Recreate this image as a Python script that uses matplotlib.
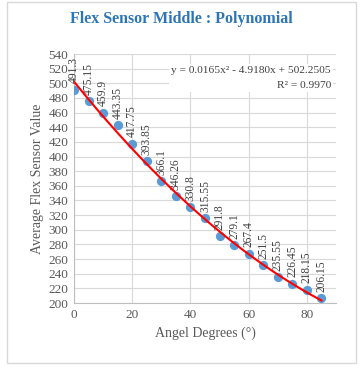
import numpy as np
import matplotlib
matplotlib.use('Agg')
import matplotlib.pyplot as plt
from matplotlib.patches import Rectangle

# data
angle = [0, 5, 10, 15, 20, 25, 30, 35, 40, 45, 50, 55, 60, 65, 70, 75, 80, 85]
value = [491.3, 475.15, 459.9, 443.35, 417.75, 393.85, 366.1, 346.26, 330.8,
         315.55, 291.8, 279.1, 267.4, 251.5, 235.55, 226.45, 218.15, 206.15]
labels = ['491.3', '475.15', '459.9', '443.35', '417.75', '393.85', '366.1',
          '346.26', '330.8', '315.55', '291.8', '279.1', '267.4', '251.5',
          '235.55', '226.45', '218.15', '206.15']
coef = [0.0165, -4.9180, 502.2505]   # trendline y = a x^2 + b x + c

plt.rcParams['font.family'] = ['Liberation Serif', 'DejaVu Serif']
grey = '#595959'

fig = plt.figure(figsize=(3.63, 3.71), dpi=100)
fig.patches.append(Rectangle((7/363, 1 - 363/371), 349/363, 361/371,
                             transform=fig.transFigure, fill=False,
                             edgecolor='#d9d9d9', linewidth=1))
ax = fig.add_axes([74/363, 1 - 303/371, 262/363, 249/371])

ax.scatter(angle, value, s=32, color='#5b9bd5', zorder=3)
xt = np.linspace(0, 85, 200)
ax.plot(xt, np.polyval(coef, xt), color='#ff0000', linewidth=1.5, zorder=4)

for x, y, s in zip(angle, value, labels):
    ax.annotate(s, (x, y), xytext=(0, 4.5), textcoords='offset points',
                rotation=90, ha='center', va='bottom', fontsize=8.3,
                color='#404040')

# trendline equation box
ax.text(0.98, 0.904, 'y = 0.0165x² - 4.9180x + 502.2505\nR² = 0.9970',
        transform=ax.transAxes, ha='right', va='center', ma='right',
        fontsize=8.2, color='#404040', linespacing=1.75,
        bbox=dict(facecolor='white', edgecolor='none', pad=1.5), zorder=2)

ax.set_xlim(0, 90)
ax.set_ylim(200, 540)
ax.set_xticks(range(0, 90, 20))
ax.set_yticks(range(200, 541, 20))
ax.grid(True, color='#d9d9d9', linewidth=0.8)
ax.set_axisbelow(True)
for sp in ['top', 'right']:
    ax.spines[sp].set_visible(False)
for sp in ['left', 'bottom']:
    ax.spines[sp].set_color('#bfbfbf')
ax.tick_params(length=0, labelsize=9.5, labelcolor=grey, pad=4)
ax.set_xlabel('Angel Degrees (°)', fontsize=10, color=grey, labelpad=4)
ax.set_ylabel('Average Flex Sensor Value', fontsize=10, color=grey, labelpad=3)
fig.text(0.5, 1 - 19/371, 'Flex Sensor Middle : Polynomial', ha='center',
         va='center', fontsize=11.5, fontweight='bold', color='#2e75b6')

fig.savefig('out.png', dpi=100)
